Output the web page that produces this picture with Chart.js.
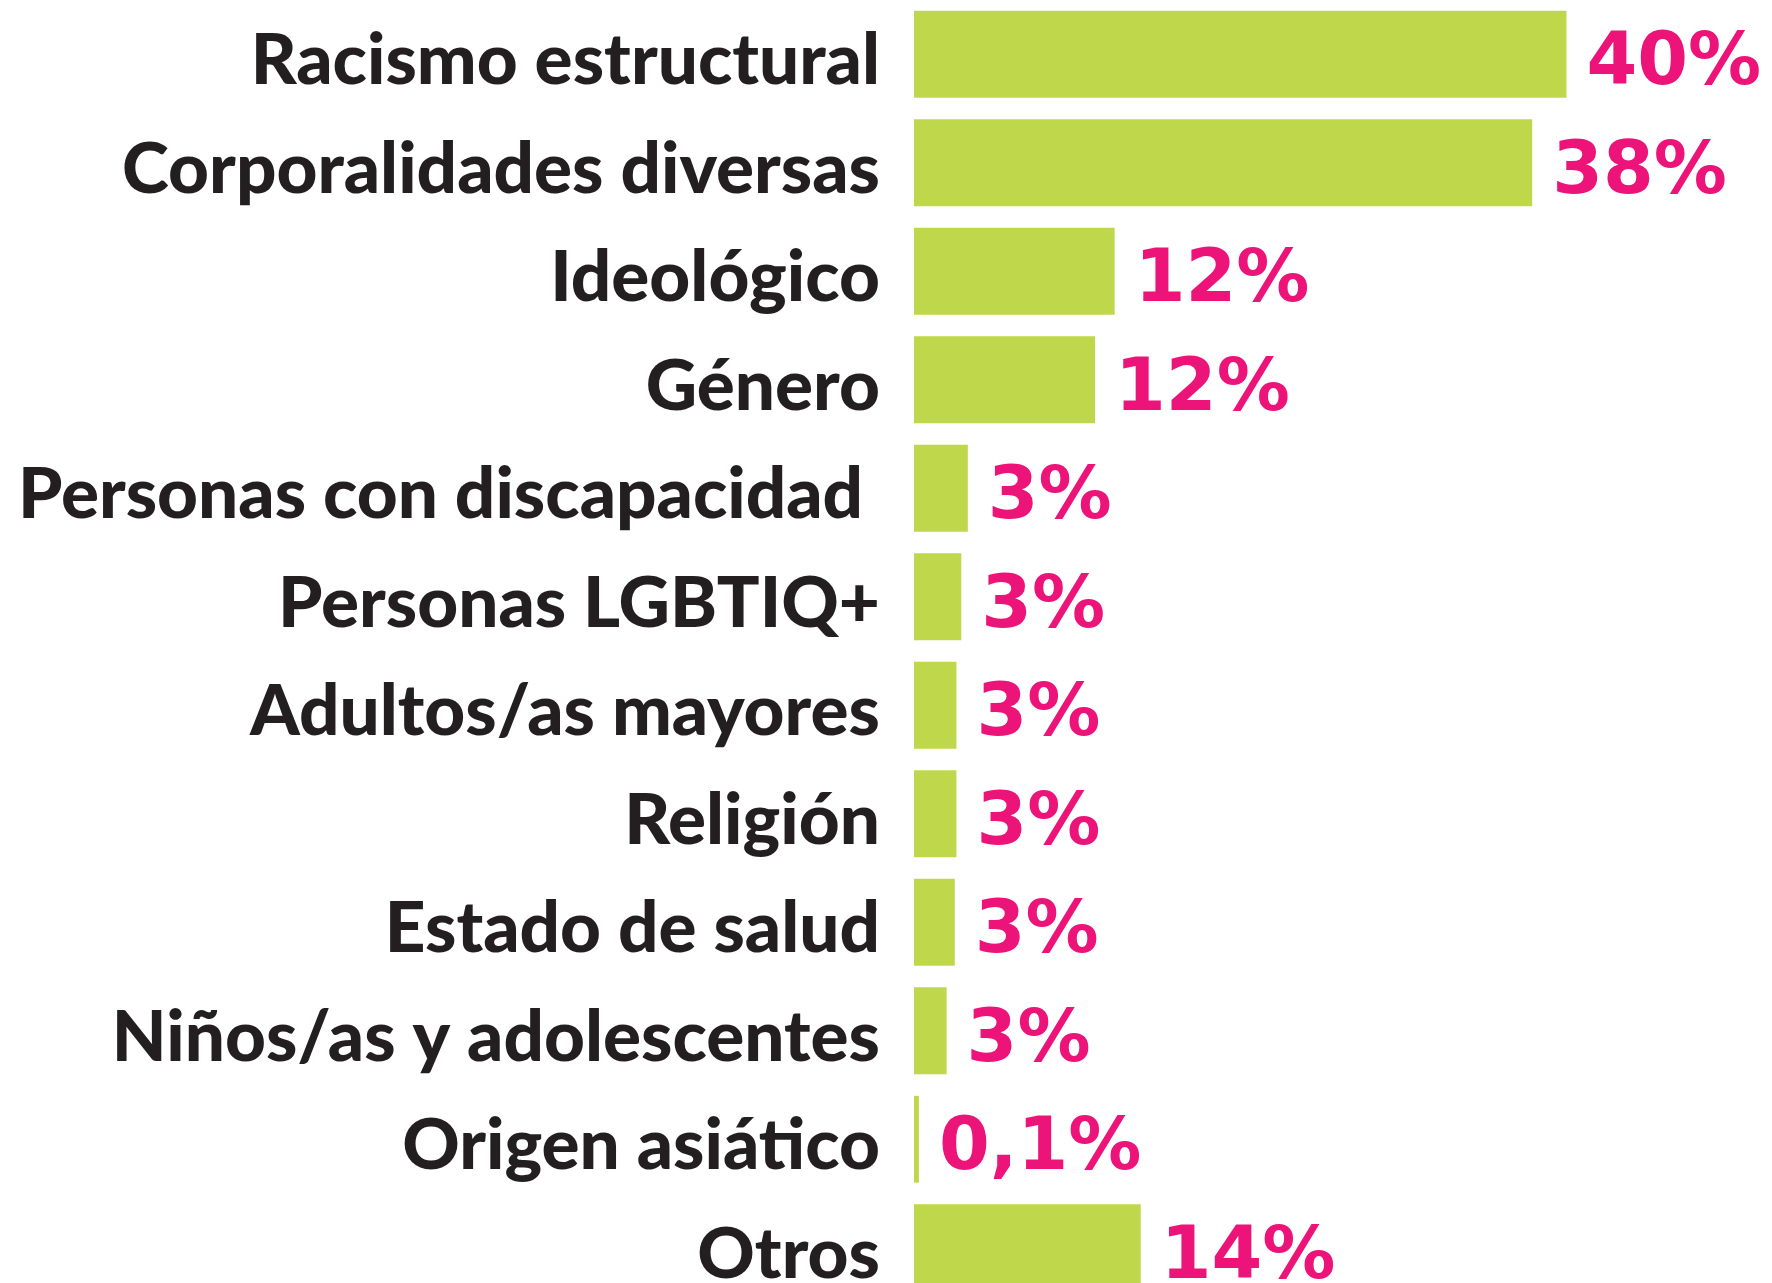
<!DOCTYPE html>
<html>
<head>
<meta charset="utf-8">
<script src="https://cdn.jsdelivr.net/npm/chart.js@4.4.0/dist/chart.umd.min.js"></script>
<style>
  html, body { margin: 0; padding: 0; background: #fff; overflow: hidden; }
  #wrap { position: relative; width: 1772px; height: 1302px; }
</style>
</head>
<body>
<div id="wrap"><canvas id="g1"></canvas></div>
<script>
// categorias (de arriba hacia abajo)
var categorias = [
  'Racismo estructural',
  'Corporalidades diversas',
  'Ideológico',
  'Género',
  'Personas con discapacidad ',
  'Personas LGBTIQ+',
  'Adultos/as mayores',
  'Religión',
  'Estado de salud',
  'Niños/as y adolescentes',
  'Origen asiático',
  'Otros'
];

// largo de cada barra tal como se ve en la imagen
var valores = [40, 37.9, 12.3, 11.1, 3.3, 2.9, 2.6, 2.6, 2.5, 2.0, 0.3, 13.9];

// texto que acompaña a cada barra
var etiquetas = ['40%', '38%', '12%', '12%', '3%', '3%', '3%', '3%', '3%', '3%', '0,1%', '14%'];

var verde = '#bfd74a';
var rosa = '#ec1479';
var negro = '#231f20';

// plugin para escribir los porcentajes al final de cada barra
var porcentajes = {
  id: 'porcentajes',
  afterDatasetsDraw: function(chart) {
    var ctx = chart.ctx;
    var meta = chart.getDatasetMeta(0);
    ctx.save();
    ctx.fillStyle = rosa;
    ctx.font = 'bold 73px "DejaVu Sans"';
    ctx.textAlign = 'left';
    ctx.textBaseline = 'alphabetic';
    meta.data.forEach(function(bar, i) {
      ctx.fillText(etiquetas[i], bar.x + 20, bar.y + 30);
    });
    ctx.restore();
  }
};

var ctx_1 = document.getElementById('g1');

var myChart = new Chart(ctx_1, {
  type: 'bar',
  data: {
    labels: categorias,
    datasets: [{
      data: valores,
      backgroundColor: verde,
      borderWidth: 0,
      barPercentage: 0.8,
      categoryPercentage: 1
    }]
  },
  plugins: [porcentajes],
  options: {
    indexAxis: 'y',
    responsive: true,
    maintainAspectRatio: false,
    animation: false,
    layout: { padding: 0 },
    plugins: {
      legend: { display: false },
      tooltip: { enabled: false },
      title: { display: false }
    },
    scales: {
      x: {
        display: false,
        min: 0,
        max: 52.6
      },
      y: {
        grid: { display: false, drawTicks: false },
        border: { display: false },
        ticks: {
          color: negro,
          padding: 34,
          labelOffset: 7,
          autoSkip: false,
          font: { family: 'Lato, sans-serif', weight: '900', size: 71, lineHeight: 0.01 }
        },
        afterFit: function(axis) {
          axis.width = 914;
          // sin margen arriba/abajo: las barras llenan todo el alto
          axis.paddingTop = 0;
          axis.paddingBottom = 0;
        }
      }
    }
  }
});
</script>
</body>
</html>
